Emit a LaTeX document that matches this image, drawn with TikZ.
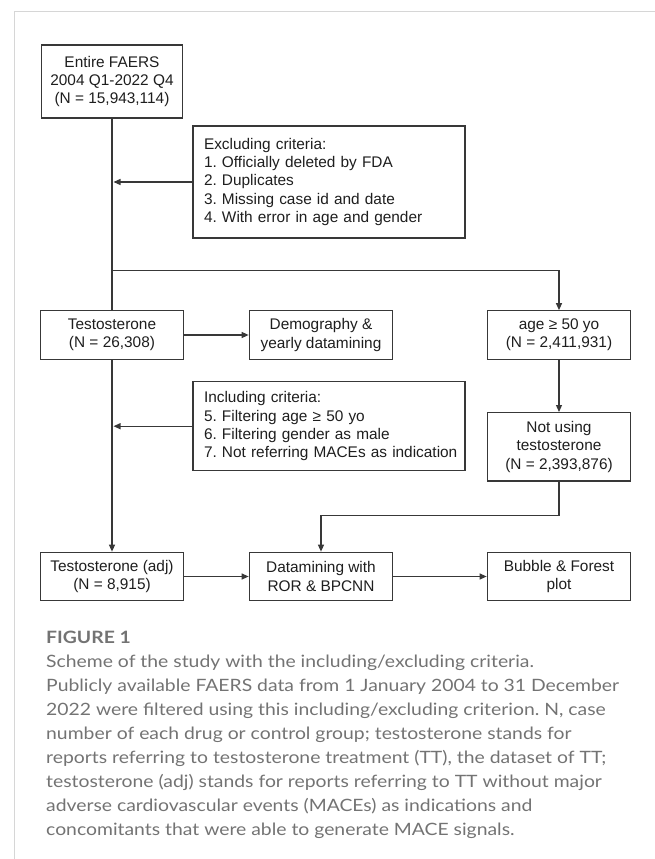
\documentclass[tikz,border=0pt]{standalone}
\usepackage{fontspec}
\setmainfont{Liberation Sans}
\newfontfamily\capfont[FakeStretch=1.138]{Lato}
\usetikzlibrary{arrows.meta,calc}
\definecolor{framegray}{HTML}{D6D6D6}
\definecolor{linegray}{HTML}{383838}
\definecolor{capgray}{HTML}{737373}
\definecolor{boxtext}{HTML}{1E1E1E}
\frenchspacing
\begin{document}
\frenchspacing
\begin{tikzpicture}[x=1pt,y=-1pt,
  box/.style={draw=linegray, line width=1.3pt, minimum width=143.4pt, minimum height=48.4pt,
    align=center, inner sep=2pt, font=\fontsize{15.4}{18.3}\selectfont, text=boxtext},
  critbox/.style={box, align=left, text width=250pt, inner xsep=11pt, inner ysep=0pt, minimum width=272pt},
  conn/.style={draw=linegray, line width=1.2pt},
  arr/.style={conn, -{Triangle[length=7pt,width=6pt]}},
  capline/.style={anchor=base west, inner sep=0pt, font=\capfont\fontsize{17}{24}\selectfont, text=capgray},
]
\useasboundingbox (0,0) rectangle (655,859);
\draw[framegray, line width=1pt] (655,12) -- (14,12) -- (14,859);

% nodes
\node[box, minimum width=141pt, minimum height=73pt] (entire) at (112,81.5) {Entire FAERS\\2004 Q1-2022 Q4\\(N = 15,943,114)};
\node[critbox, minimum height=112pt] (excl) at (329,182) {Excluding criteria:\\1. Officially deleted by FDA\\2. Duplicates\\3. Missing case id and date\\4. With error in age and gender};
\node[box] (testo) at (112,335) {Testosterone\\(N = 26,308)};
\node[box] (demo) at (321,335) {Demography \&\\yearly datamining};
\node[box] (age) at (559,335) {age ≥ 50 yo\\(N = 2,411,931)};
\node[critbox, minimum height=89pt] (incl) at (329,426.2) {Including criteria:\\5. Filtering age ≥ 50 yo\\6. Filtering gender as male\\\mbox{7. Not referring MACEs as indication}};
\node[box, minimum height=68.3pt] (notusing) at (559,446.8) {Not using\\testosterone\\(N = 2,393,876)};
\node[box] (adj) at (112,576.5) {Testosterone (adj)\\(N = 8,915)};
\node[box] (datam) at (321,576.5) {Datamining with\\ROR \& BPCNN};
\node[box] (bubble) at (559,576.5) {Bubble \& Forest\\plot};

% connectors
\coordinate (split) at (112,270.7);
\draw[conn] (entire.south) -- (testo.north);
\draw[arr, shorten >=1.5pt] (excl.west) -- (excl.west -| entire.south);
\draw[arr] (split) -| (age.north);
\draw[arr] (testo.east) -- (demo.west);
\draw[arr, shorten >=1.5pt] (incl.west) -- (incl.west -| testo.south);
\draw[arr] (testo.south) -- (adj.north);
\draw[arr] (age.south) -- (notusing.north);
\coordinate (join) at ($(datam.north)+(0,-36)$);
\draw[arr] (notusing.south) |- (join) -- (datam.north);
\draw[arr] (adj.east) -- (datam.west);
\draw[arr] (datam.east) -- (bubble.west);

% caption
\node[capline, font=\capfont\bfseries\fontsize{17}{24}\selectfont] (figlabel) at (46,643) {FIGURE 1};
\node[capline] (cap1) at (46,667) {Scheme of the study with the including/excluding criteria.};
\node[capline] (cap2) at (46,691) {Publicly available FAERS data from 1 January 2004 to 31 December};
\node[capline] (cap3) at (46,715) {2022 were filtered using this including/excluding criterion. N, case};
\node[capline] (cap4) at (46,739) {number of each drug or control group; testosterone stands for};
\node[capline] (cap5) at (46,763) {reports referring to testosterone treatment (TT), the dataset of TT;};
\node[capline] (cap6) at (46,787) {testosterone (adj) stands for reports referring to TT without major};
\node[capline] (cap7) at (46,811) {adverse cardiovascular events (MACEs) as indications and};
\node[capline] (cap8) at (46,835) {concomitants that were able to generate MACE signals.};
\end{tikzpicture}
\end{document}
